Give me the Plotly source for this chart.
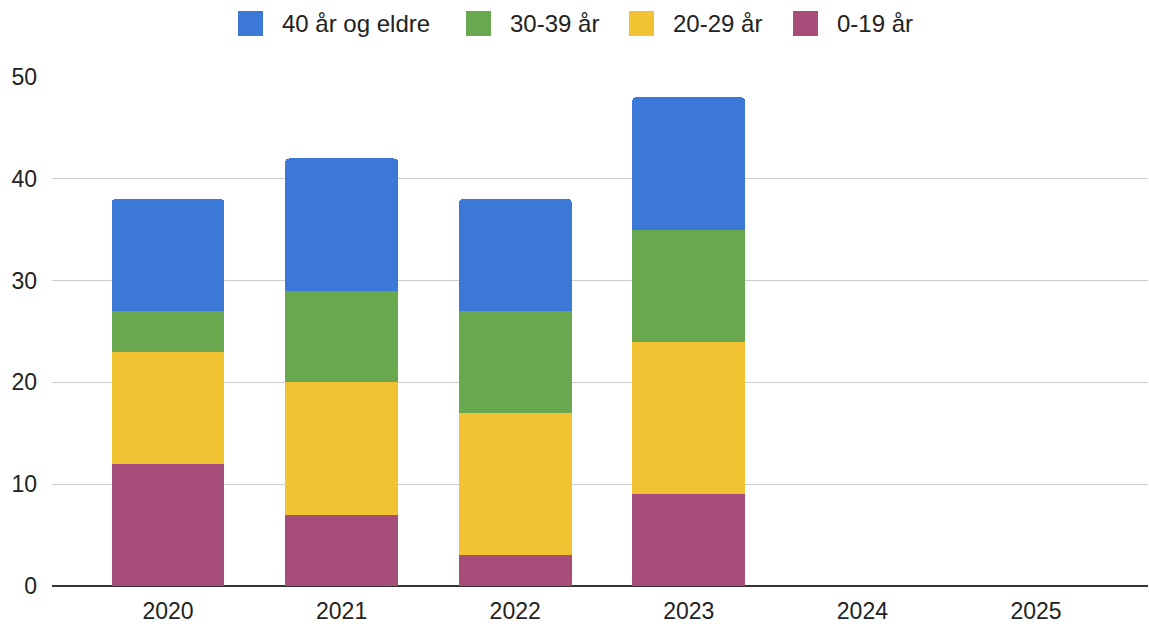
import plotly.graph_objects as go

years = ["2020", "2021", "2022", "2023", "2024", "2025"]
age_0_19 = [12, 7, 3, 9, None, None]
age_20_29 = [11, 13, 14, 15, None, None]
age_30_39 = [4, 9, 10, 11, None, None]
age_40_plus = [11, 13, 11, 13, None, None]

series = [
    ("0-19 år", age_0_19, "#a64d79"),
    ("20-29 år", age_20_29, "#f1c232"),
    ("30-39 år", age_30_39, "#6aa84f"),
    ("40 år og eldre", age_40_plus, "#3c78d8"),
]

W, H = 1149, 629
ML, MR, MT, MB = 52, 1, 77, 43
PW, PH = W - ML - MR, H - MT - MB


def px_x(p):
    return (p - ML) / PW


def px_y(p):
    return (H - MB - p) / PH


fig = go.Figure()
for name, vals, color in series:
    fig.add_trace(go.Bar(
        x=years, y=vals, name=name,
        marker=dict(color=color, line=dict(width=0)),
        width=0.65,
        showlegend=False,
    ))

# custom legend (reversed order, as in the reference)
legend_items = list(reversed(series))
legend_square_left = [238, 466, 629, 793]
shapes = []
annotations = []
for (name, _, color), sx in zip(legend_items, legend_square_left):
    shapes.append(dict(
        type="rect", xref="paper", yref="paper",
        x0=px_x(sx), x1=px_x(sx + 25), y0=px_y(36), y1=px_y(11),
        fillcolor=color, line=dict(width=0), layer="above",
    ))
    annotations.append(dict(
        xref="paper", yref="paper", x=px_x(sx + 42), y=px_y(23.5),
        xanchor="left", yanchor="middle", showarrow=False,
        text=name, font=dict(size=24, color="#222222"),
    ))

fig.update_layout(
    width=W, height=H,
    barmode="stack",
    barcornerradius=4,
    paper_bgcolor="white",
    plot_bgcolor="white",
    font=dict(family="Liberation Sans, Arial, sans-serif", size=23, color="#222222"),
    margin=dict(l=ML, r=MR, t=MT, b=MB, autoexpand=False),
    showlegend=False,
    shapes=shapes,
    annotations=annotations,
    xaxis=dict(
        type="category",
        range=[-0.668, 5.645],
        showgrid=False,
        showline=False,
        ticks="",
        tickfont=dict(size=23, color="#222222"),
        ticklabelstandoff=9,
        fixedrange=True,
    ),
    yaxis=dict(
        range=[0, 50],
        dtick=10,
        showgrid=True,
        gridcolor="#cccccc",
        gridwidth=1,
        zeroline=True,
        zerolinecolor="#333333",
        zerolinewidth=2,
        ticks="",
        ticklabelstandoff=14,
        tickfont=dict(size=23, color="#222222"),
        fixedrange=True,
    ),
)

fig.write_html("out.html", config={"displayModeBar": False},
               post_script="document.body.style.margin='0';")
